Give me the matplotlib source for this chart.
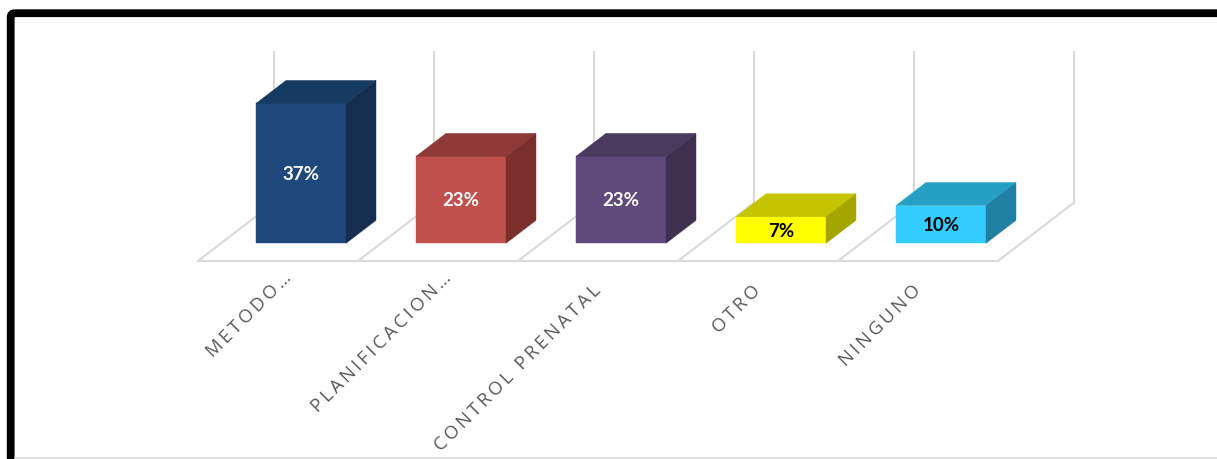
import matplotlib

matplotlib.use("Agg")

import matplotlib.pyplot as plt
from matplotlib.patches import FancyBboxPatch, Polygon

categories = ["METODO…", "PLANIFICACION…", "CONTROL PRENATAL", "OTRO", "NINGUNO"]
values = [37, 23, 23, 7, 10]
value_labels = ["37%", "23%", "23%", "7%", "10%"]

front_colors = ["#1F497D", "#C0504D", "#604A7B", "#FFFF00", "#33CCFF"]
top_colors = ["#173A62", "#8F3A38", "#4A3A5E", "#C4C400", "#269FC5"]
side_colors = ["#152E4F", "#7C302E", "#3F3050", "#A5A500", "#2080A3"]
text_colors = ["white", "white", "white", "black", "black"]

WIDTH, HEIGHT = 1217, 460
GRID = "#D9D9D9"
Y_MAX = 40
BASELINE_PX = 244.3
PX_PER_PERCENT = 3.78
BAR_WIDTH = 90 / 160

# one unit of depth is the depth of a bar, in category and percent units
DEPTH_X = 30 / 160
DEPTH_Y = 23 / PX_PER_PERCENT
FLOOR_FRONT = -0.76
FLOOR_BACK = 1.76

# truncated labels sit further up and to the right
LABEL_SHIFT_X_PT = [-13.5, -13.5, -21, -21, -21]
LABEL_SHIFT_Y_PT = [-17.5, -17.5, -27, -27, -27]


def project(x, y, depth):
    return x + depth * DEPTH_X, y + depth * DEPTH_Y


def draw_frame(fig):
    ax = fig.add_axes([0, 0, 1, 1])
    ax.set_xlim(0, WIDTH)
    ax.set_ylim(HEIGHT, 0)
    ax.set_axis_off()
    ax.plot([15, WIDTH], [459.3, 459.3], color=GRID, lw=1.2)
    frame = FancyBboxPatch(
        (10.7, 14.2), WIDTH + 40, HEIGHT + 40,
        boxstyle="round,pad=0,rounding_size=4",
        fc="none", ec="black", lw=5.6,
    )
    ax.add_patch(frame)


def grid_line(ax, start, end):
    ax.plot(*zip(start, end), color=GRID, lw=1.5, zorder=1, clip_on=False)


def draw_floor_and_walls(ax):
    n = len(categories)
    for i in range(n + 1):
        edge = i - 0.5
        grid_line(ax, project(edge, 0, FLOOR_FRONT), project(edge, 0, FLOOR_BACK))
        grid_line(ax, project(edge, 0, FLOOR_BACK), project(edge, Y_MAX, FLOOR_BACK))
    grid_line(ax, project(-0.5, 0, FLOOR_FRONT), project(n - 0.5, 0, FLOOR_FRONT))


def draw_bar(ax, i):
    left, right = i - BAR_WIDTH / 2, i + BAR_WIDTH / 2
    value = values[i]
    faces = [
        ([(left, 0, 0), (right, 0, 0), (right, value, 0), (left, value, 0)], front_colors[i]),
        ([(left, value, 0), (right, value, 0), (right, value, 1), (left, value, 1)], top_colors[i]),
        ([(right, 0, 0), (right, 0, 1), (right, value, 1), (right, value, 0)], side_colors[i]),
    ]
    for corners, color in faces:
        points = [project(*corner) for corner in corners]
        ax.add_patch(Polygon(points, closed=True, fc=color, ec=color, lw=0.3,
                             zorder=2, clip_on=False))
    ax.text(i, value / 2, value_labels[i], color=text_colors[i], ha="center",
            va="center", fontsize=13.5, fontweight="bold", family="Lato", zorder=3)


def draw_category_label(ax, i):
    # wide tracking on the axis labels
    label = "\u2009".join(categories[i])
    ax.annotate(label, xy=(i, 0), xytext=(LABEL_SHIFT_X_PT[i], LABEL_SHIFT_Y_PT[i]),
                textcoords="offset points", xycoords="data",
                rotation=45, rotation_mode="anchor", ha="right", va="top",
                fontsize=13.3, color="#595959",
                family=["Open Sans", "DejaVu Sans"], annotation_clip=False)


def main():
    fig = plt.figure(figsize=(WIDTH / 100, HEIGHT / 100), dpi=100, facecolor="white")
    draw_frame(fig)

    # y = 0 sits on the bar fronts, 160 px per category
    ax = fig.add_axes([221 / WIDTH, (HEIGHT - BASELINE_PX) / HEIGHT,
                       800 / WIDTH, PX_PER_PERCENT * Y_MAX / HEIGHT])
    ax.set_xlim(-0.5, len(categories) - 0.5)
    ax.set_ylim(0, Y_MAX)
    ax.set_axis_off()
    ax.patch.set_alpha(0)

    draw_floor_and_walls(ax)
    for i in range(len(categories)):
        draw_bar(ax, i)
        draw_category_label(ax, i)

    fig.savefig("out.png", dpi=100)
    plt.close(fig)


if __name__ == "__main__":
    main()
